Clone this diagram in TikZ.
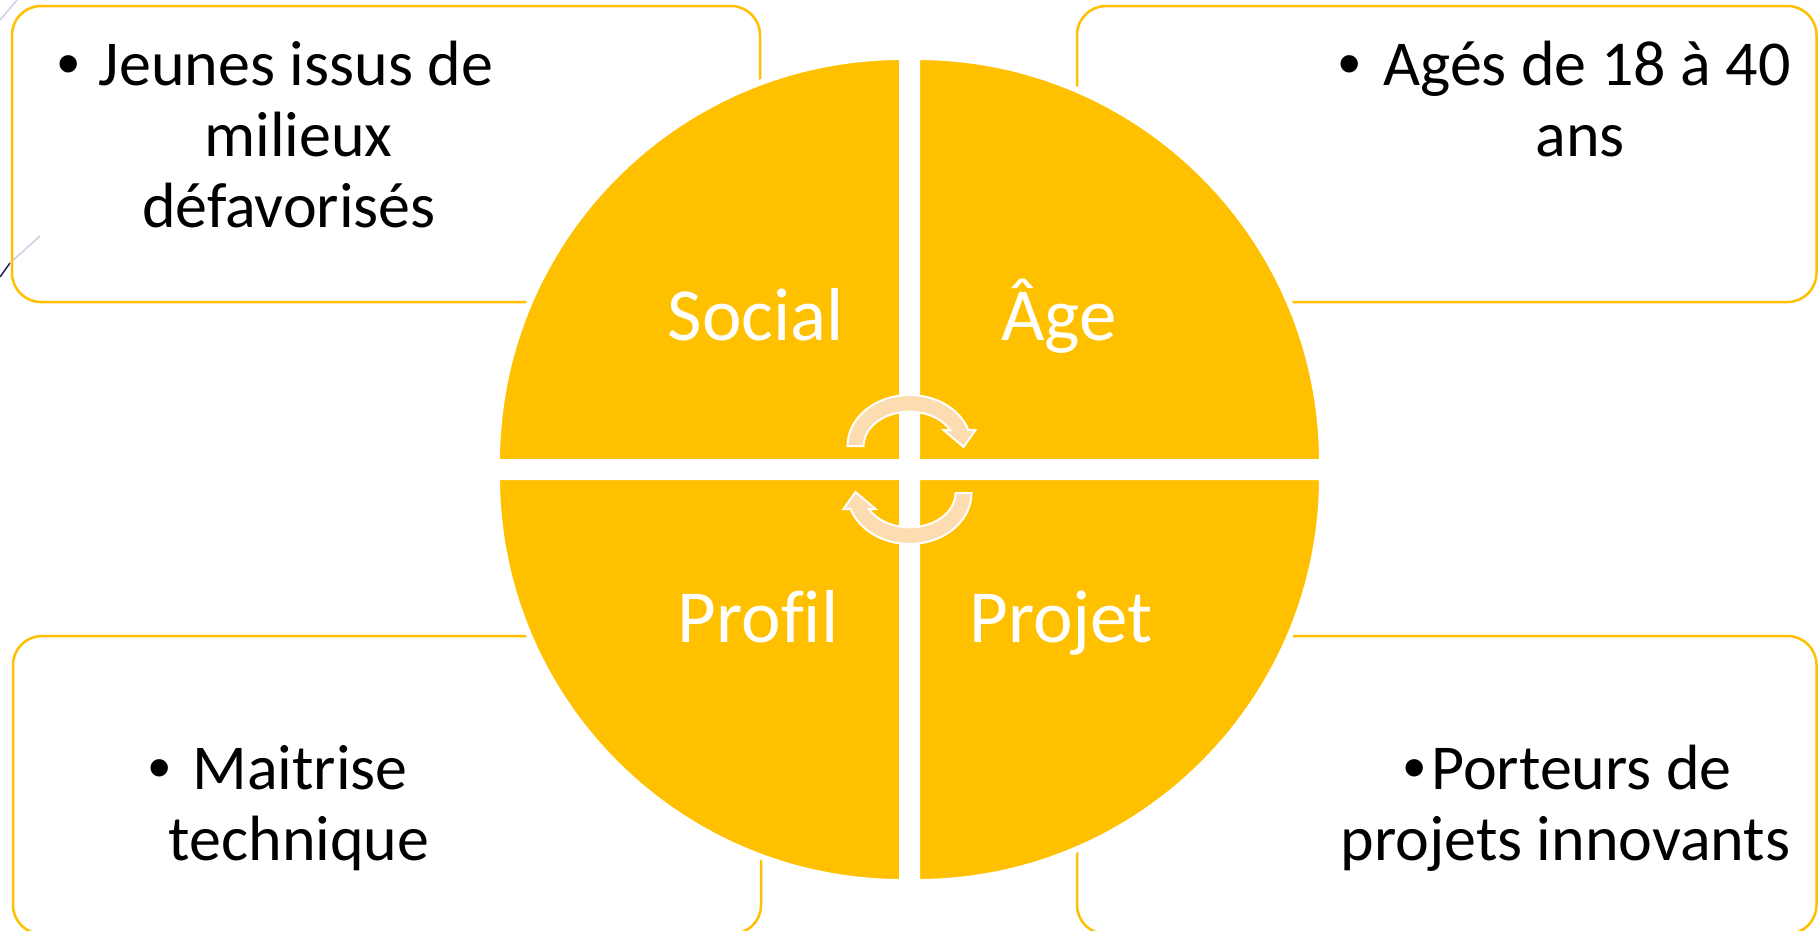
\documentclass[tikz,border=0pt]{standalone}
\usepackage{fontspec}
\setmainfont{Carlito}[Ligatures=NoCommon]
\newfontfamily\bulletfont{Liberation Sans}
\definecolor{gold}{RGB}{255,192,0}
\definecolor{peach}{RGB}{252,220,176}
\definecolor{lav}{RGB}{205,205,232}
\definecolor{navy}{RGB}{35,30,100}
\begin{document}
\begin{tikzpicture}[x=1pt,y=-1pt,
  boxst/.style={draw=gold, line width=2.5pt, rounded corners=29pt, inner sep=0pt, outer sep=0pt},
  quad/.style={fill=gold, draw=white, line width=6pt, line join=miter},
  txt/.style={inner sep=0pt, anchor=base, font=\fontsize{64}{71}\selectfont, text=black},
  bul/.style={inner sep=0pt, anchor=base, font=\bulletfont\fontsize{64}{71}\selectfont, text=black},
  lbl/.style={inner sep=0pt, anchor=base, font=\fontsize{75}{80}\selectfont, text=white},
  arrowst/.style={fill=peach, draw=white, line width=2pt, line join=miter}]
\useasboundingbox (0,0) rectangle (1819,930);
\fill[white] (0,0) rectangle (1819,930);
% faint decorative strokes
\draw[lav, line width=1.5pt] (0,20) -- (17,0);
\draw[navy, line width=1.5pt] (0,277) -- (10,263);
\draw[lav, line width=1.5pt] (10,263) -- (40,236);
% boxes
\node[boxst, minimum width=748pt, minimum height=296pt] (boxtl) at (386,154) {};
\node[boxst, minimum width=739.5pt, minimum height=296pt] (boxtr) at (1446.75,154) {};
\node[boxst, minimum width=748pt, minimum height=298pt] (boxbl) at (387,785) {};
\node[boxst, minimum width=739.5pt, minimum height=298pt] (boxbr) at (1446.75,785) {};
% four exploded quarter discs
\coordinate (ctl) at (902,462);
\coordinate (ctr) at (917,462);
\coordinate (cbl) at (902,477);
\coordinate (cbr) at (917,477);
\filldraw[quad] (ctl) -- +(180:405) arc[start angle=180, end angle=270, radius=405] -- cycle;
\filldraw[quad] (ctr) -- +(270:405) arc[start angle=270, end angle=360, radius=405] -- cycle;
\filldraw[quad] (cbr) -- +(0:405) arc[start angle=0, end angle=90, radius=405] -- cycle;
\filldraw[quad] (cbl) -- +(90:405) arc[start angle=90, end angle=180, radius=405] -- cycle;
% circular arrows
\begin{scope}[shift={(909.5,446)}, yscale=-1]
\filldraw[arrowst] (-62,0) arc[start angle=180, end angle=18.3, x radius=62, y radius=51]
  -- (66,16) -- (54,-1) -- (34,16) -- (40.7,16)
  arc[start angle=27.8, end angle=180, x radius=46, y radius=34.3] -- cycle;
\end{scope}
\begin{scope}[shift={(909.5,493)}, yscale=-1, rotate=180]
\filldraw[arrowst] (-62,0) arc[start angle=180, end angle=18.3, x radius=62, y radius=51]
  -- (66,16) -- (54,-1) -- (34,16) -- (40.7,16)
  arc[start angle=27.8, end angle=180, x radius=46, y radius=34.3] -- cycle;
\end{scope}
% quadrant labels
\node[lbl] (social) at (755.7,340) {Social};
\node[lbl] (age) at (1059,340) {Âge};
\node[lbl] (profil) at (758,642) {Profil};
\node[lbl] (projet) at (1061,642) {Projet};
% box texts
\node[bul] (b1) at (69,85) {•};
\node[txt] (t1a) at (296,85) {Jeunes issus de};
\node[txt] (t1b) at (298.5,156) {milieux};
\node[txt] (t1c) at (289,227) {défavorisés};
\node[bul] (b2) at (1350,85) {•};
\node[txt] (t2a) at (1587,85) {Agés de 18 à 40};
\node[txt] (t2b) at (1580,156) {ans};
\node[bul] (b3) at (159.5,789) {•};
\node[txt] (t3a) at (300,789) {Maitrise};
\node[txt] (t3b) at (299,860) {technique};
\node[bul] (b4) at (1414.5,789) {•};
\node[txt] (t4a) at (1581.5,789) {Porteurs de};
\node[txt] (t4b) at (1565.5,860) {projets innovants};
\end{tikzpicture}
\end{document}
